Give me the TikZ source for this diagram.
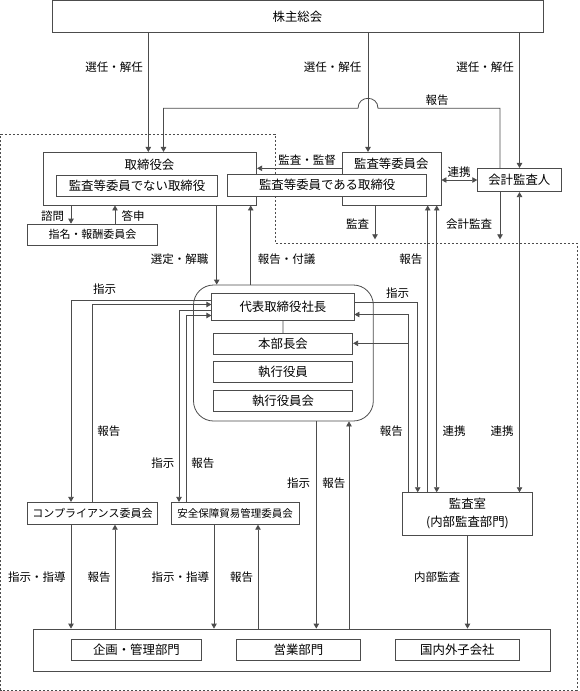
\documentclass[tikz,border=0pt]{standalone}
\usepackage{fontspec}
\setmainfont{Noto Sans CJK JP}
\usetikzlibrary{arrows.meta, positioning}

\begin{document}
\begin{tikzpicture}[x=1pt, y=-1pt,
    box/.style={draw=black!70, fill=white, line width=0.8pt, inner sep=0pt, font=\fontsize{12.4}{14}\selectfont},
    smallbox/.style={box, font=\fontsize{11}{13}\selectfont},
    lab/.style={inner sep=0pt, font=\fontsize{11.5}{13}\selectfont},
    wire/.style={draw=black!70, line width=0.8pt},
    arr/.style={wire, -{Triangle[length=5pt,width=5.5pt]}},
    biarr/.style={wire, {Triangle[length=5pt,width=5.5pt]}-{Triangle[length=5pt,width=5.5pt]}},
    area/.style={draw=black!70, line width=0.8pt, dash pattern=on 2.5pt off 1.5pt}]
        \useasboundingbox (0,0) rectangle (580,691);

        % dashed company area
        \draw[area] (0.8,134) -- (275,134) -- (275,243) -- (577,243) -- (577,690) -- (0.8,690) -- cycle;

        % columns and rows
        \foreach \n/\x in {sA/148.3, sB/368, sC/519.5, rep/163.5, rp2/500, ks/375, shimon/71, toushin/115,
                sentei/216.7, fugi/250.7, cmpR/92.7, anzI/179, anzR/186, kI/417.7, kR/408.3, kR2/427.7,
                kL/436.7, bI/316.3, bR/349, anzD/214, anzU/258}
            \coordinate (\n) at (\x,0);
        \foreach \n/\y in {rHop/108.3, rKD/168.3, rL1/300, rL2/304.5, rL3/310, rL4/315.5,
                rR1/302.7, rR2/314.5, rR3/343.3, rEnd/239.3}
            \coordinate (\n) at (0,\y);
        \coordinate (hopR) at (378,108.3);
        \coordinate (hopL) at (358,108.3);

        % boxes
        \node[box, minimum width=491pt, minimum height=31.8pt] (soukai) at (297.4,16.4) {株主総会};
        \node[box, minimum width=213.4pt, minimum height=52.7pt] (torishimari) at (150,178.7) {};
        \node[lab, font=\fontsize{12.4}{14}\selectfont] (toriname) at (149.5,165) {取締役会};
        \node[box, minimum width=160.6pt, minimum height=21.7pt] (hikansa) at (137,185.8) {監査等委員でない取締役};
        \node[smallbox, minimum width=130.4pt, minimum height=21.3pt] (shimei) at (92.5,234.7) {指名・報酬委員会};
        \node[box, minimum width=98.7pt, minimum height=52.7pt] (kansaiin) at (391.7,178.7) {};
        \node[lab, font=\fontsize{12.4}{14}\selectfont] (kansaname) at (391.3,163.3) {監査等委員会};
        \node[box, minimum width=199pt, minimum height=21.7pt] (kansatori) at (327.2,185.2) {監査等委員である取締役};
        \node[box, minimum width=83.3pt, minimum height=23.3pt] (kaikei) at (519.3,180) {会計監査人};

        \node[box, rounded corners=20pt, minimum width=179.8pt, minimum height=136pt] (grp) at (283.4,353) {};
        \node[box, minimum width=142.3pt, minimum height=27.2pt] (daihyo) at (282.9,307.1) {代表取締役社長};
        \node[box, minimum width=139.4pt, minimum height=21pt] (honbu) at (283,343.8) {本部長会};
        \node[box, minimum width=139.4pt, minimum height=21pt] (shikko) at (283,371.5) {執行役員};
        \node[box, minimum width=139.4pt, minimum height=21pt] (shikkokai) at (283,400.7) {執行役員会};

        \node[smallbox, minimum width=130.4pt, minimum height=22pt] (compliance) at (92.5,513.3) {コンプライアンス委員会};
        \node[smallbox, font=\fontsize{10.5}{12}\selectfont, minimum width=128.3pt, minimum height=22pt] (anzen) at (235.2,513.3) {安全保障貿易管理委員会};
        \node[box, align=center, font=\fontsize{12.4}{18.3}\selectfont, minimum width=129.6pt, minimum height=42.3pt] (kansashitsu) at (467.5,513.8) {監査室\\(内部監査部門)};

        \node[box, minimum width=516.7pt, minimum height=42pt] (bumon) at (291.7,650) {};
        \node[box, minimum width=130pt, minimum height=20.7pt] (kikaku) at (136.4,649.7) {企画・管理部門};
        \node[box, minimum width=124.7pt, minimum height=20.7pt] (eigyo) at (298.4,649.7) {営業部門};
        \node[box, minimum width=124.8pt, minimum height=20.7pt] (kogaisha) at (457.4,649.7) {国内外子会社};

        % from the shareholders' meeting
        \draw[arr] (soukai.south -| sA) -- (torishimari.north -| sA);
        \draw[arr] (soukai.south -| sB) -- (kansaiin.north -| sB);
        \draw[arr] (soukai.south -| sC) -- (kaikei.north -| sC);
        \draw[arr] (kaikei.north -| rp2) -- (rp2 |- rHop) -- (hopR) .. controls +(0,-13.3) and +(0,-13.3) .. (hopL)
            -- (rep |- rHop) -- (torishimari.north -| rep);

        % board and audit committee
        \draw[arr] (kansaiin.west |- rKD) -- (torishimari.east |- rKD);
        \draw[biarr] (kansaiin.east |- kaikei.west) -- (kaikei.west);
        \draw[arr] (torishimari.south -| shimon) -- (shimei.north -| shimon);
        \draw[arr] (shimei.north -| toushin) -- (torishimari.south -| toushin);
        \draw[arr] (kansaiin.south -| ks) -- (ks |- rEnd);
        \draw[arr] (kaikei.south -| rp2) -- (rp2 |- rEnd);
        \draw[arr] (torishimari.south -| sentei) -- (grp.north -| sentei);
        \draw[arr] (grp.north -| fugi) -- (torishimari.south -| fugi);

        % committees
        \draw[arr] (daihyo.west |- rL1) -| (compliance.north -| shimon);
        \draw[arr] (compliance.north -| cmpR) |- (daihyo.west |- rL2);
        \draw[arr] (daihyo.west |- rL3) -| (anzen.north -| anzI);
        \draw[arr] (anzen.north -| anzR) |- (daihyo.west |- rL4);
        \draw[wire] (daihyo.south) -- (honbu.north);

        % internal audit
        \draw[arr] (daihyo.east |- rR1) -| (kansashitsu.north -| kI);
        \draw[arr] (kansashitsu.north -| kR) |- (daihyo.east |- rR2);
        \draw[arr] (kR |- rR3) -- (honbu.east |- rR3);
        \draw[arr] (kansashitsu.north -| kR2) -- (kansaiin.south -| kR2);
        \draw[biarr] (kansashitsu.north -| kL) -- (kansaiin.south -| kL);
        \draw[biarr] (kaikei.south -| sC) -- (kansashitsu.north -| sC);

        % divisions
        \draw[arr] (grp.south -| bI) -- (bumon.north -| bI);
        \draw[arr] (bumon.north -| bR) -- (grp.south -| bR);
        \draw[arr] (compliance.south -| shimon) -- (bumon.north -| shimon);
        \draw[arr] (bumon.north -| toushin) -- (compliance.south -| toushin);
        \draw[arr] (anzen.south -| anzD) -- (bumon.north -| anzD);
        \draw[arr] (bumon.north -| anzU) -- (anzen.south -| anzU);
        \draw[arr] (kansashitsu.south) -- (bumon.north -| kansashitsu.south);

        % labels
        \foreach \x/\y/\t [count=\i] in {114/66.7/選任・解任, 332.6/66.7/選任・解任, 485/66.7/選任・解任,
                437/100/報告, 307.2/160/監査・監督, 459.2/171.7/連携, 52.5/215.7/諮問, 133/215.7/答申,
                357.5/224/監査, 469/224/会計監査, 179.7/259.3/選定・解職, 286.5/259.3/報告・付議,
                410.8/259.3/報告, 104.7/289.3/指示, 397.7/292.7/指示, 108.8/431/報告, 391.3/431/報告,
                454/431/連携, 502/431/連携, 162.8/462.7/指示, 202.8/462.7/報告, 298.7/482.7/指示,
                333.8/482.7/報告, 37/576.7/指示・指導, 99.1/576.7/報告, 180.4/576.7/指示・指導,
                241.6/576.7/報告, 437.1/576.7/内部監査}
            \node[lab] (lab\i) at (\x,\y) {\t};

\end{tikzpicture}
\end{document}
